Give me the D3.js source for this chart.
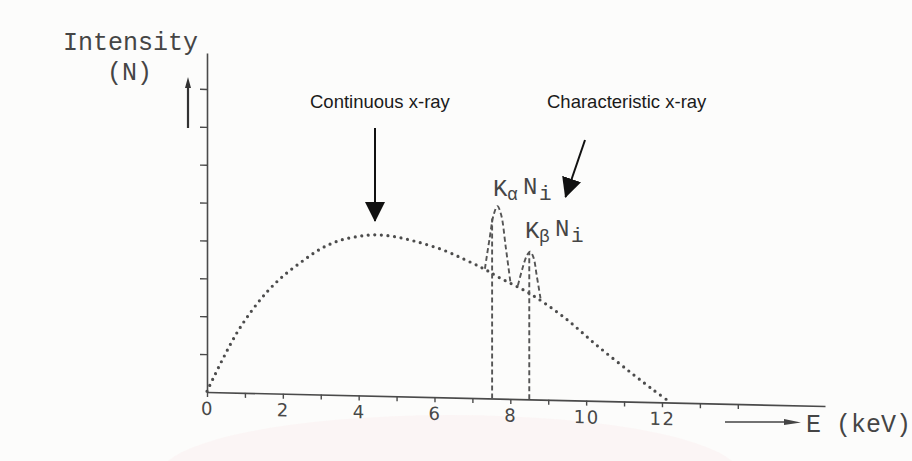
<!DOCTYPE html>
<html>
<head>
<meta charset="utf-8">
<script src="https://cdn.jsdelivr.net/npm/d3@7/dist/d3.min.js"></script>
<style>
  html, body { margin: 0; padding: 0; background: #fcfcfb; }
  svg { display: block; }
</style>
</head>
<body>
<svg id="chart" width="912" height="461"></svg>
<script>
// ---- data ----
const continuumE = [0, 0.4, 0.8, 1.2, 1.6, 2.0, 2.5, 3.0, 3.5, 4.0, 4.4, 4.9, 5.5, 6.2, 6.8, 7.3, 7.7, 8.5, 9.4, 10.3, 11.2, 11.8, 12.2];
const continuumI = [0.02, 0.85, 1.6, 2.2, 2.7, 3.1, 3.5, 3.85, 4.08, 4.2, 4.25, 4.22, 4.1, 3.9, 3.65, 3.42, 3.2, 2.8, 2.2, 1.45, 0.75, 0.3, 0.02];
const kAlphaE = [7.33, 7.45, 7.56, 7.66, 7.76, 7.88, 8.0];
const kAlphaI = [3.42, 4.2, 4.85, 5.08, 4.85, 4.0, 3.1];
const kBetaE = [8.2, 8.32, 8.43, 8.52, 8.61, 8.7, 8.8];
const kBetaI = [3.0, 3.45, 3.78, 3.9, 3.75, 3.25, 2.65];
const lineE = [7.52, 8.5];
const lineTop = [4.75, 3.88];
const xTicks = [0,1,2,3,4,5,6,7,8,9,10,11,12,13,14];
const xTickLabels = ["0","","2","","4","","6","","8","","10","","12","",""];
const yTicks = [1,2,3,4,5,6,7,8];

// ---- layout ----
const svg = d3.select("#chart");
const ox = 207, oy = 392;
const x = d3.scaleLinear().domain([0, 16.3]).range([0, 618]);
const y = d3.scaleLinear().domain([0, 8.95]).range([0, -339]);
const ink = "#4a4a4a";

// faint scan-like background tint
svg.append("rect").attr("width", 912).attr("height", 461).attr("fill", "#fcfcfb");
svg.append("ellipse").attr("cx", 450).attr("cy", 475).attr("rx", 290).attr("ry", 60)
  .attr("fill", "#fbf2f2").attr("opacity", 0.7);

const g = svg.append("g").attr("transform", `translate(${ox},${oy}) skewY(1.3)`);

// x axis
const xAxis = d3.axisBottom(x).tickValues(xTicks).tickSize(5).tickSizeOuter(0).tickPadding(5)
  .tickFormat((d, i) => xTickLabels[i]);
const gx = g.append("g").call(xAxis);
gx.select(".domain").attr("stroke", ink).attr("stroke-width", 1.6);
gx.selectAll(".tick line").attr("stroke", ink).attr("stroke-width", 1.4);
gx.selectAll(".tick text").attr("fill", "#484848").attr("font-family", "DejaVu Sans, Liberation Sans, sans-serif")
  .attr("font-size", 18).attr("letter-spacing", 1.5);

// y axis
const yAxis = d3.axisLeft(y).tickValues(yTicks).tickSize(7).tickSizeOuter(0).tickFormat("");
const gy = g.append("g").call(yAxis);
gy.select(".domain").attr("stroke", ink).attr("stroke-width", 1.6);
gy.selectAll(".tick line").attr("stroke", ink).attr("stroke-width", 1.4);

// continuum (dotted)
const line = d3.line().x(d => x(d[0])).y(d => y(d[1])).curve(d3.curveCatmullRom);
g.append("path").datum(continuumE.map((e, i) => [e, continuumI[i]]))
  .attr("d", line).attr("fill", "none").attr("stroke", "#4c4c4c")
  .attr("stroke-width", 3.2).attr("stroke-linecap", "round").attr("stroke-dasharray", "0 6.6");

// characteristic peaks (dashed)
[[kAlphaE, kAlphaI], [kBetaE, kBetaI]].forEach(([E, I]) => {
  g.append("path").datum(E.map((e, i) => [e, I[i]]))
    .attr("d", line).attr("fill", "none").attr("stroke", "#555")
    .attr("stroke-width", 1.9).attr("stroke-dasharray", "5 3");
});
g.selectAll(".kline").data(lineE).join("line").attr("class", "kline")
  .attr("x1", d => x(d)).attr("x2", d => x(d))
  .attr("y1", y(0)).attr("y2", (d, i) => y(lineTop[i]))
  .attr("stroke", "#555").attr("stroke-width", 1.9).attr("stroke-dasharray", "5 3");

// ---- texts ----
const mono = "Liberation Mono, Courier New, monospace";
svg.append("text").attr("x", 63).attr("y", 50).attr("font-family", mono).attr("font-size", 25)
  .attr("fill", "#454545").text("Intensity");
svg.append("text").attr("x", 107).attr("y", 80).attr("font-family", mono).attr("font-size", 25)
  .attr("fill", "#454545").text("(N)");

// small up arrow next to y axis
svg.append("line").attr("x1", 188).attr("x2", 188).attr("y1", 128).attr("y2", 84)
  .attr("stroke", "#333").attr("stroke-width", 2.2);
svg.append("path").attr("d", "M185,88 L188,77 L191,88 Z").attr("fill", "#333");

// E (keV) with arrow
svg.append("line").attr("x1", 725).attr("x2", 790).attr("y1", 422).attr("y2", 422)
  .attr("stroke", "#444").attr("stroke-width", 1.6);
svg.append("path").attr("d", "M784,419 L801,422.5 L784,425 Z").attr("fill", "#444");
svg.append("text").attr("x", 806).attr("y", 432).attr("font-family", mono).attr("font-size", 25)
  .attr("fill", "#454545").text("E (keV)");

// K labels
function kLabel(xs, baseY, sub) {
  const t = svg.append("text").attr("font-family", mono).attr("fill", "#454545");
  t.append("tspan").attr("x", xs).attr("y", baseY).attr("font-size", 24).text("K");
  t.append("tspan").attr("x", xs + 14).attr("y", baseY + 4).attr("font-size", 18).text(sub);
  t.append("tspan").attr("x", xs + 30).attr("y", baseY - 2).attr("font-size", 24).text("N");
  t.append("tspan").attr("x", xs + 46).attr("y", baseY + 4).attr("font-size", 21).text("i");
}
kLabel(493, 196, "α");
kLabel(525, 238, "β");

// annotations
const sans = "Liberation Sans, Arial, Helvetica, sans-serif";
svg.append("text").attr("x", 310).attr("y", 108).attr("font-family", sans).attr("font-size", 18.5)
  .attr("fill", "#1a1a1a").text("Continuous x-ray");
svg.append("text").attr("x", 547).attr("y", 108).attr("font-family", sans).attr("font-size", 18.5)
  .attr("fill", "#1a1a1a").text("Characteristic x-ray");

const defs = svg.append("defs");
defs.append("marker").attr("id", "head").attr("viewBox", "0 0 20 20")
  .attr("refX", 19).attr("refY", 10).attr("markerUnits", "userSpaceOnUse")
  .attr("markerWidth", 20).attr("markerHeight", 20).attr("orient", "auto")
  .append("path").attr("d", "M0,0 L20,10 L0,20 Z").attr("fill", "#111");

svg.append("line").attr("x1", 375).attr("y1", 128).attr("x2", 375).attr("y2", 221)
  .attr("stroke", "#111").attr("stroke-width", 2).attr("marker-end", "url(#head)");
svg.append("line").attr("x1", 585).attr("y1", 140).attr("x2", 565.5).attr("y2", 197)
  .attr("stroke", "#111").attr("stroke-width", 2).attr("marker-end", "url(#head)");
</script>
</body>
</html>
